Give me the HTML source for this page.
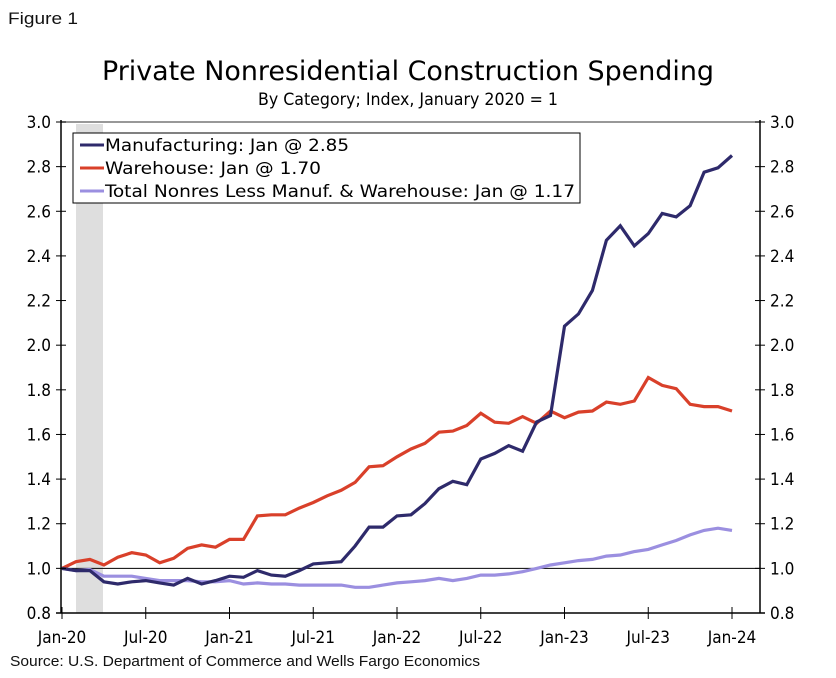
<!DOCTYPE html>
<html><head><meta charset="utf-8">
<style>
html,body{margin:0;padding:0;background:#fff;}
svg{display:block;font-family:"DejaVu Sans Condensed","DejaVu Sans","Liberation Sans",sans-serif;}
</style></head>
<body>
<svg id="chart" width="836" height="678" viewBox="0 0 836 678">
<text x="8" y="24" font-family="Liberation Sans, sans-serif" font-size="17" textLength="70" lengthAdjust="spacingAndGlyphs" fill="#111">Figure 1</text>
<text x="408" y="80" text-anchor="middle" font-size="27" textLength="612" lengthAdjust="spacingAndGlyphs" fill="#000">Private Nonresidential Construction Spending</text>
<text x="408" y="105" text-anchor="middle" font-size="17" textLength="300" lengthAdjust="spacingAndGlyphs" fill="#000">By Category; Index, January 2020 = 1</text>
<rect x="76" y="124" width="27" height="489" fill="#dedede"/>
<g id="grid"></g>
<g id="series"></g>
<g id="axes"></g>
<g>
<rect x="73" y="133" width="507" height="70" fill="#fff" stroke="#000" stroke-width="1"/>
<line x1="80" y1="145" x2="104" y2="145" stroke="#2e2a6b" stroke-width="3"/>
<text x="105" y="151" font-size="17" fill="#000" textLength="244" lengthAdjust="spacingAndGlyphs">Manufacturing: Jan @ 2.85</text>
<line x1="80" y1="168" x2="104" y2="168" stroke="#d9402a" stroke-width="3"/>
<text x="105" y="174" font-size="17" fill="#000" textLength="216" lengthAdjust="spacingAndGlyphs">Warehouse: Jan @ 1.70</text>
<line x1="80" y1="191" x2="104" y2="191" stroke="#9b8fe0" stroke-width="3"/>
<text x="105" y="197" font-size="17" fill="#000" textLength="470" lengthAdjust="spacingAndGlyphs">Total Nonres Less Manuf. &amp; Warehouse: Jan @ 1.17</text>
</g>
<text x="10" y="666" font-family="Liberation Sans, sans-serif" font-size="15" fill="#111" textLength="470" lengthAdjust="spacingAndGlyphs">Source: U.S. Department of Commerce and Wells Fargo Economics</text>
</svg>
<script>
const manufacturing=[1.0,0.99,0.99,0.94,0.93,0.94,0.945,0.935,0.925,0.955,0.93,0.945,0.965,0.96,0.99,0.97,0.965,0.99,1.02,1.025,1.03,1.1,1.185,1.185,1.235,1.24,1.29,1.357,1.39,1.375,1.49,1.515,1.55,1.525,1.656,1.685,2.085,2.14,2.245,2.47,2.535,2.445,2.5,2.59,2.575,2.625,2.775,2.795,2.85];
const warehouse=[1.0,1.03,1.04,1.015,1.05,1.07,1.06,1.025,1.045,1.09,1.105,1.095,1.13,1.13,1.235,1.24,1.24,1.27,1.295,1.325,1.35,1.385,1.455,1.46,1.5,1.535,1.56,1.61,1.615,1.64,1.695,1.655,1.65,1.68,1.65,1.705,1.675,1.7,1.705,1.745,1.735,1.75,1.855,1.82,1.805,1.735,1.725,1.725,1.705];
const totalLess=[1.0,0.99,0.995,0.965,0.965,0.965,0.955,0.945,0.945,0.945,0.94,0.94,0.945,0.93,0.935,0.93,0.93,0.925,0.925,0.925,0.925,0.915,0.915,0.925,0.935,0.94,0.945,0.955,0.945,0.955,0.97,0.97,0.975,0.985,1.0,1.015,1.025,1.035,1.04,1.055,1.06,1.075,1.085,1.105,1.125,1.15,1.17,1.18,1.17];
const xTickLabels=["Jan-20","Jul-20","Jan-21","Jul-21","Jan-22","Jul-22","Jan-23","Jul-23","Jan-24"];
const yTicks=[0.8,1.0,1.2,1.4,1.6,1.8,2.0,2.2,2.4,2.6,2.8,3.0];
const NS="http://www.w3.org/2000/svg";
const X0=62,DX=(732-62)/48,YB=613,YT=122,LEFT=61,RIGHT=760;
function xs(i){return X0+i*DX;}
function ys(v){return YB-(v-0.8)/(3.0-0.8)*(YB-YT);}
function mk(tag,attrs,parent){const e=document.createElementNS(NS,tag);for(const k in attrs)e.setAttribute(k,attrs[k]);parent.appendChild(e);return e;}
const axes=document.getElementById('axes'),series=document.getElementById('series'),grid=document.getElementById('grid');
let t=mk('line',{x1:LEFT,y1:YT,x2:RIGHT,y2:YT,stroke:'#777','stroke-width':1.5},grid);


t=mk('line',{x1:LEFT,y1:ys(1.0),x2:RIGHT,y2:ys(1.0),stroke:'#000','stroke-width':1},grid);


function drawLine(arr,color,name){
  const d=arr.map((v,i)=>(i?'L':'M')+xs(i).toFixed(1)+' '+ys(v).toFixed(1)).join(' ');
  const p=mk('path',{d:d,fill:'none',stroke:color,'stroke-width':3.2,'stroke-linejoin':'miter'},series);
  
  
}
drawLine(totalLess,'#9b8fe0','total-nonres-line');
drawLine(warehouse,'#d9402a','warehouse-line');
drawLine(manufacturing,'#2e2a6b','manufacturing-line');
let a=mk('line',{x1:LEFT,y1:YT-2,x2:LEFT,y2:YB,stroke:'#000','stroke-width':1.5},axes);


a=mk('line',{x1:RIGHT,y1:YT-2,x2:RIGHT,y2:YB,stroke:'#000','stroke-width':1.5},axes);


a=mk('line',{x1:LEFT-5,y1:YB,x2:RIGHT+5,y2:YB,stroke:'#000','stroke-width':1.5},axes);


yTicks.forEach(v=>{
  const y=ys(v);
  mk('line',{x1:LEFT-5,y1:y,x2:LEFT+5,y2:y,stroke:'#000','stroke-width':1},axes);
  mk('line',{x1:RIGHT-5,y1:y,x2:RIGHT+5,y2:y,stroke:'#000','stroke-width':1},axes);
  const l=mk('text',{x:LEFT-10,y:y+6,'text-anchor':'end','font-size':17,fill:'#000'},axes);
  l.textContent=v.toFixed(1);
  
  
  const r=mk('text',{x:RIGHT+10,y:y+6,'text-anchor':'start','font-size':17,fill:'#000'},axes);
  r.textContent=v.toFixed(1);
  
  
});
xTickLabels.forEach((s,k)=>{
  const x=xs(k*6);
  mk('line',{x1:x,y1:YB-6,x2:x,y2:YB+6,stroke:'#000','stroke-width':1},axes);
  const l=mk('text',{x:x,y:643,'text-anchor':'middle','font-size':17,fill:'#000'},axes);
  l.textContent=s;
  
  
});
</script>
</body></html>
